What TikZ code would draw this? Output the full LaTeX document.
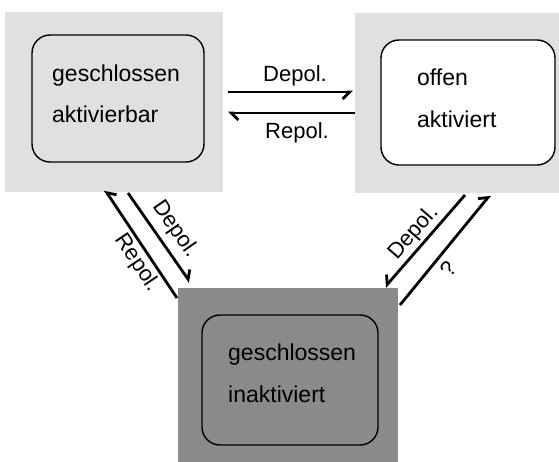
\documentclass[tikz,border=0pt]{standalone}
\usepackage{fontspec}
\setmainfont{Liberation Sans}
\usetikzlibrary{arrows.meta,calc}
\definecolor{stipplelight}{RGB}{224,224,224}
\definecolor{stippledark}{RGB}{138,138,138}
\begin{document}
\begin{tikzpicture}[x=1pt,y=-1pt,
  panel/.style={rectangle,draw=none,inner sep=0pt,outer sep=0pt},
  statebox/.style={rectangle,draw=black,line width=1.4pt,rounded corners=18pt,inner sep=0pt},
  statetext/.style={anchor=base west,inner sep=0pt,font=\fontsize{23}{27}\selectfont},
  rate/.style={inner sep=0pt,font=\fontsize{22}{26}\selectfont},
  harp/.style={line width=2.8pt,-{Straight Barb[harpoon,length=7pt,width=14pt]}},
  harpswap/.style={line width=2.8pt,-{Straight Barb[harpoon,swap,length=7pt,width=14pt]}},
]
\useasboundingbox (0,0) rectangle (559,462);
\fill[white] (0,0) rectangle (559,462);

% shaded panels behind the three channel states
\node[panel,fill=stipplelight,minimum width=218pt,minimum height=180pt] (bgA) at (114,102) {};
\node[panel,fill=stipplelight,minimum width=204pt,minimum height=180pt] (bgO) at (457,103) {};
\node[panel,fill=stippledark,minimum width=220pt,minimum height=174pt] (bgI) at (288,375) {};

% state boxes
\node[statebox,fill=stipplelight,minimum width=172pt,minimum height=127pt] (A) at (118,98.5) {};
\node[statebox,fill=white,minimum width=174pt,minimum height=125pt] (O) at (468,102.5) {};
\node[statebox,fill=stippledark,minimum width=176pt,minimum height=130pt] (I) at (290,380) {};

% state labels
\node[statetext] (A1) at (52,82) {geschlossen};
\node[statetext] (A2) at (52,123) {aktivierbar};
\node[statetext] (O1) at (417,86) {offen};
\node[statetext] (O2) at (417,128) {aktiviert};
\node[statetext] (I1) at (228,360) {geschlossen};
\node[statetext] (I2) at (228,402) {inaktiviert};

% transitions
\draw[harpswap] ($(bgA.east)+(5,-10)$) -- ($(bgO.west)+(-2,-11)$);
\draw[harp] ($(bgO.west)+(0,10)$) -- ($(bgA.east)+(5,11)$);
\draw[harpswap] ($(bgI.north west)+(-1,10)$) -- ($(bgA.south)+(-9,-2)$);
\draw[harp] ($(bgA.south)+(14,1)$) -- ($(bgI.north west)+(12,-6)$);
\draw[harpswap] ($(bgO.south)+(8,2)$) -- ($(bgI.north east)+(-13,-1)$);
\draw[harp] ($(bgI.north east)+(2,17)$) -- ($(bgO.south)+(33,2)$);

% transition labels
\node[rate,anchor=base] (d1) at (295,82) {Depol.};
\node[rate,anchor=base] (r1) at (297,139) {Repol.};
\node[rate,rotate=-55] (d2) at (175,229) {Depol.};
\node[rate,rotate=-56] (r2) at (137,263) {Repol.};
\node[rate,rotate=49] (d3) at (414,233) {Depol.};
\node[rate,rotate=51] (q) at (448,269) {?};
\end{tikzpicture}
\end{document}
